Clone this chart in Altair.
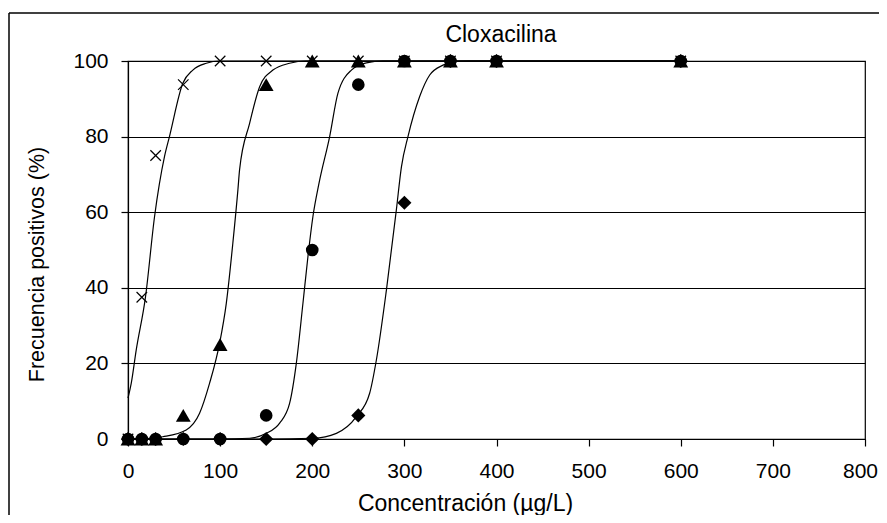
import altair as alt
import pandas as pd

# ---- data ----
conc = [0, 15, 30, 60, 100, 150, 200, 250, 300, 350, 400, 600]
cross_pct = [0, 37.5, 75, 93.75, 100, 100, 100, 100, 100, 100, 100, 100]
tri_pct = [0, 0, 0, 6.25, 25, 93.75, 100, 100, 100, 100, 100, 100]
circ_pct = [0, 0, 0, 0, 0, 6.25, 50, 93.75, 100, 100, 100, 100]
diam_pct = [0, 0, 0, 0, 0, 0, 0, 6.25, 62.5, 100, 100, 100]

# fitted curves, points
cross_fit_x = [0, 3.5, 8.9, 19, 28.8, 39.6, 45, 59.5, 70.4, 85, 99.4, 600]
cross_fit_y = [10.8, 14.7, 23.5, 37.6, 58.8, 74.7, 80, 94.1, 97.6, 99.4, 100, 100]

tri_fit_x = [0, 20, 37.8, 63.2, 77.7, 88.5, 99.4, 106.7, 113.8, 119.3, 121.1, 132, 142.9, 157.3, 175.4, 193.6, 600]
tri_fit_y = [0, 0.1, 0.6, 2.4, 6.8, 14.7, 25.3, 35.9, 51.8, 65.9, 71.2, 83.5, 93.2, 97.6, 99.4, 100, 100]

circ_fit_x = [0, 100, 132, 150.1, 164.6, 175.4, 182.7, 189.9, 195.3, 200.7, 207.3, 218.9, 227.9, 242.5, 258.7, 276.8, 600]
circ_fit_y = [0, 0, 0.2, 1.5, 4.2, 9.4, 20, 35.9, 48.2, 58.8, 67.6, 80, 91.5, 97.6, 99.5, 100, 100]

diam_fit_x = [0, 150, 200.7, 226.2, 247.9, 262.3, 269.6, 280.5, 291.3, 296.8, 303.9, 316.6, 327.5, 342, 352.8, 370, 600]
diam_fit_y = [0, 0, 0.2, 1.5, 5.9, 12.1, 20.9, 39.4, 60.6, 72, 80, 90.6, 96.3, 98.9, 99.8, 100, 100]

x_ticks = [0, 100, 200, 300, 400, 500, 600, 700, 800]
y_ticks = [0, 20, 40, 60, 80, 100]

title_text = "Cloxacilina"
x_title = "Concentración (µg/L)"
y_title = "Frecuencia positivos (%)"

W, H = 737, 378
FONT = "Liberation Sans"

# ---- tables ----
def pts(vals):
    return pd.DataFrame({"c": conc, "p": vals})

curves = pd.concat([
    pd.DataFrame({"c": cross_fit_x, "p": cross_fit_y, "s": "x"}),
    pd.DataFrame({"c": tri_fit_x, "p": tri_fit_y, "s": "t"}),
    pd.DataFrame({"c": circ_fit_x, "p": circ_fit_y, "s": "o"}),
    pd.DataFrame({"c": diam_fit_x, "p": diam_fit_y, "s": "d"}),
])

xs = alt.Scale(domain=[0, 800], nice=False, zero=False)
ys = alt.Scale(domain=[0, 100], nice=False)

x_enc = alt.X("c:Q", scale=xs, axis=alt.Axis(
    values=x_ticks, title=x_title, grid=False, tickSize=7, labelPadding=14,
    labelFlush=False, labelBound=False,
    labelOffset={"condition": {"test": "datum.value == 800", "value": -5}, "value": 0},
    titleFontSize=23, titleX=337, titleY=64, titleAlign="center", titleBaseline="middle"))
y_enc = alt.Y("p:Q", scale=ys, axis=alt.Axis(
    values=y_ticks, title=y_title, grid=True, tickSize=7, labelPadding=13,
    titleFontSize=21.5, titleX=-91, titleY=203, titleAlign="center", titleBaseline="middle"))

base_axes = alt.Chart(pts(cross_pct)).mark_point(opacity=0).encode(x=x_enc, y=y_enc)

line = alt.Chart(curves).mark_line(color="black", strokeWidth=1.2, interpolate="monotone").encode(
    x=alt.X("c:Q", scale=xs), y=alt.Y("p:Q", scale=ys), detail="s:N")

def marks(vals, shape, size, filled=True):
    kw = dict(shape=shape, size=size, filled=filled, color="black", opacity=1)
    if not filled:
        kw["strokeWidth"] = 1.2
    return alt.Chart(pts(vals)).mark_point(**kw).encode(
        x=alt.X("c:Q", scale=xs), y=alt.Y("p:Q", scale=ys))

tri = marks(tri_pct, "triangle-up", 220)
circ = marks(circ_pct, "circle", 160)
diam = marks(diam_pct, "diamond", 200)
cross = marks(cross_pct, "M-1,-1L1,1M-1,1L1,-1", 110, filled=False)

one = alt.Data(values=[{"a": 1}])
frame_left = alt.Chart(one).mark_rule(color="black", strokeWidth=1.5).encode(
    x=alt.value(-119), y=alt.value(-48), y2=alt.value(H + 80))
frame_top = alt.Chart(one).mark_rule(color="black", strokeWidth=1.5).encode(
    x=alt.value(-119), x2=alt.value(W + 20), y=alt.value(-48))
title = alt.Chart(one).mark_text(text=title_text, font=FONT, fontSize=23, color="black",
                                 baseline="middle", align="center").encode(
    x=alt.value(373), y=alt.value(-26))

chart = alt.layer(base_axes, line, tri, circ, diam, cross, frame_left, frame_top, title).properties(
    width=W, height=H,
    autosize=alt.AutoSizeParams(type="none"),
    padding={"left": 120, "top": 53, "right": 14, "bottom": 76},
    background="white",
).configure_view(stroke="black", strokeWidth=1.2).configure_axis(
    domainColor="black", domainWidth=1.2, tickColor="black", tickWidth=1.2,
    gridColor="black", gridOpacity=1, gridWidth=1,
    labelColor="black", titleColor="black", labelFont=FONT, titleFont=FONT,
    labelFontSize=21, titleFontWeight="normal",
)

chart.save("out.html", embed_options={"renderer": "svg", "actions": False})
